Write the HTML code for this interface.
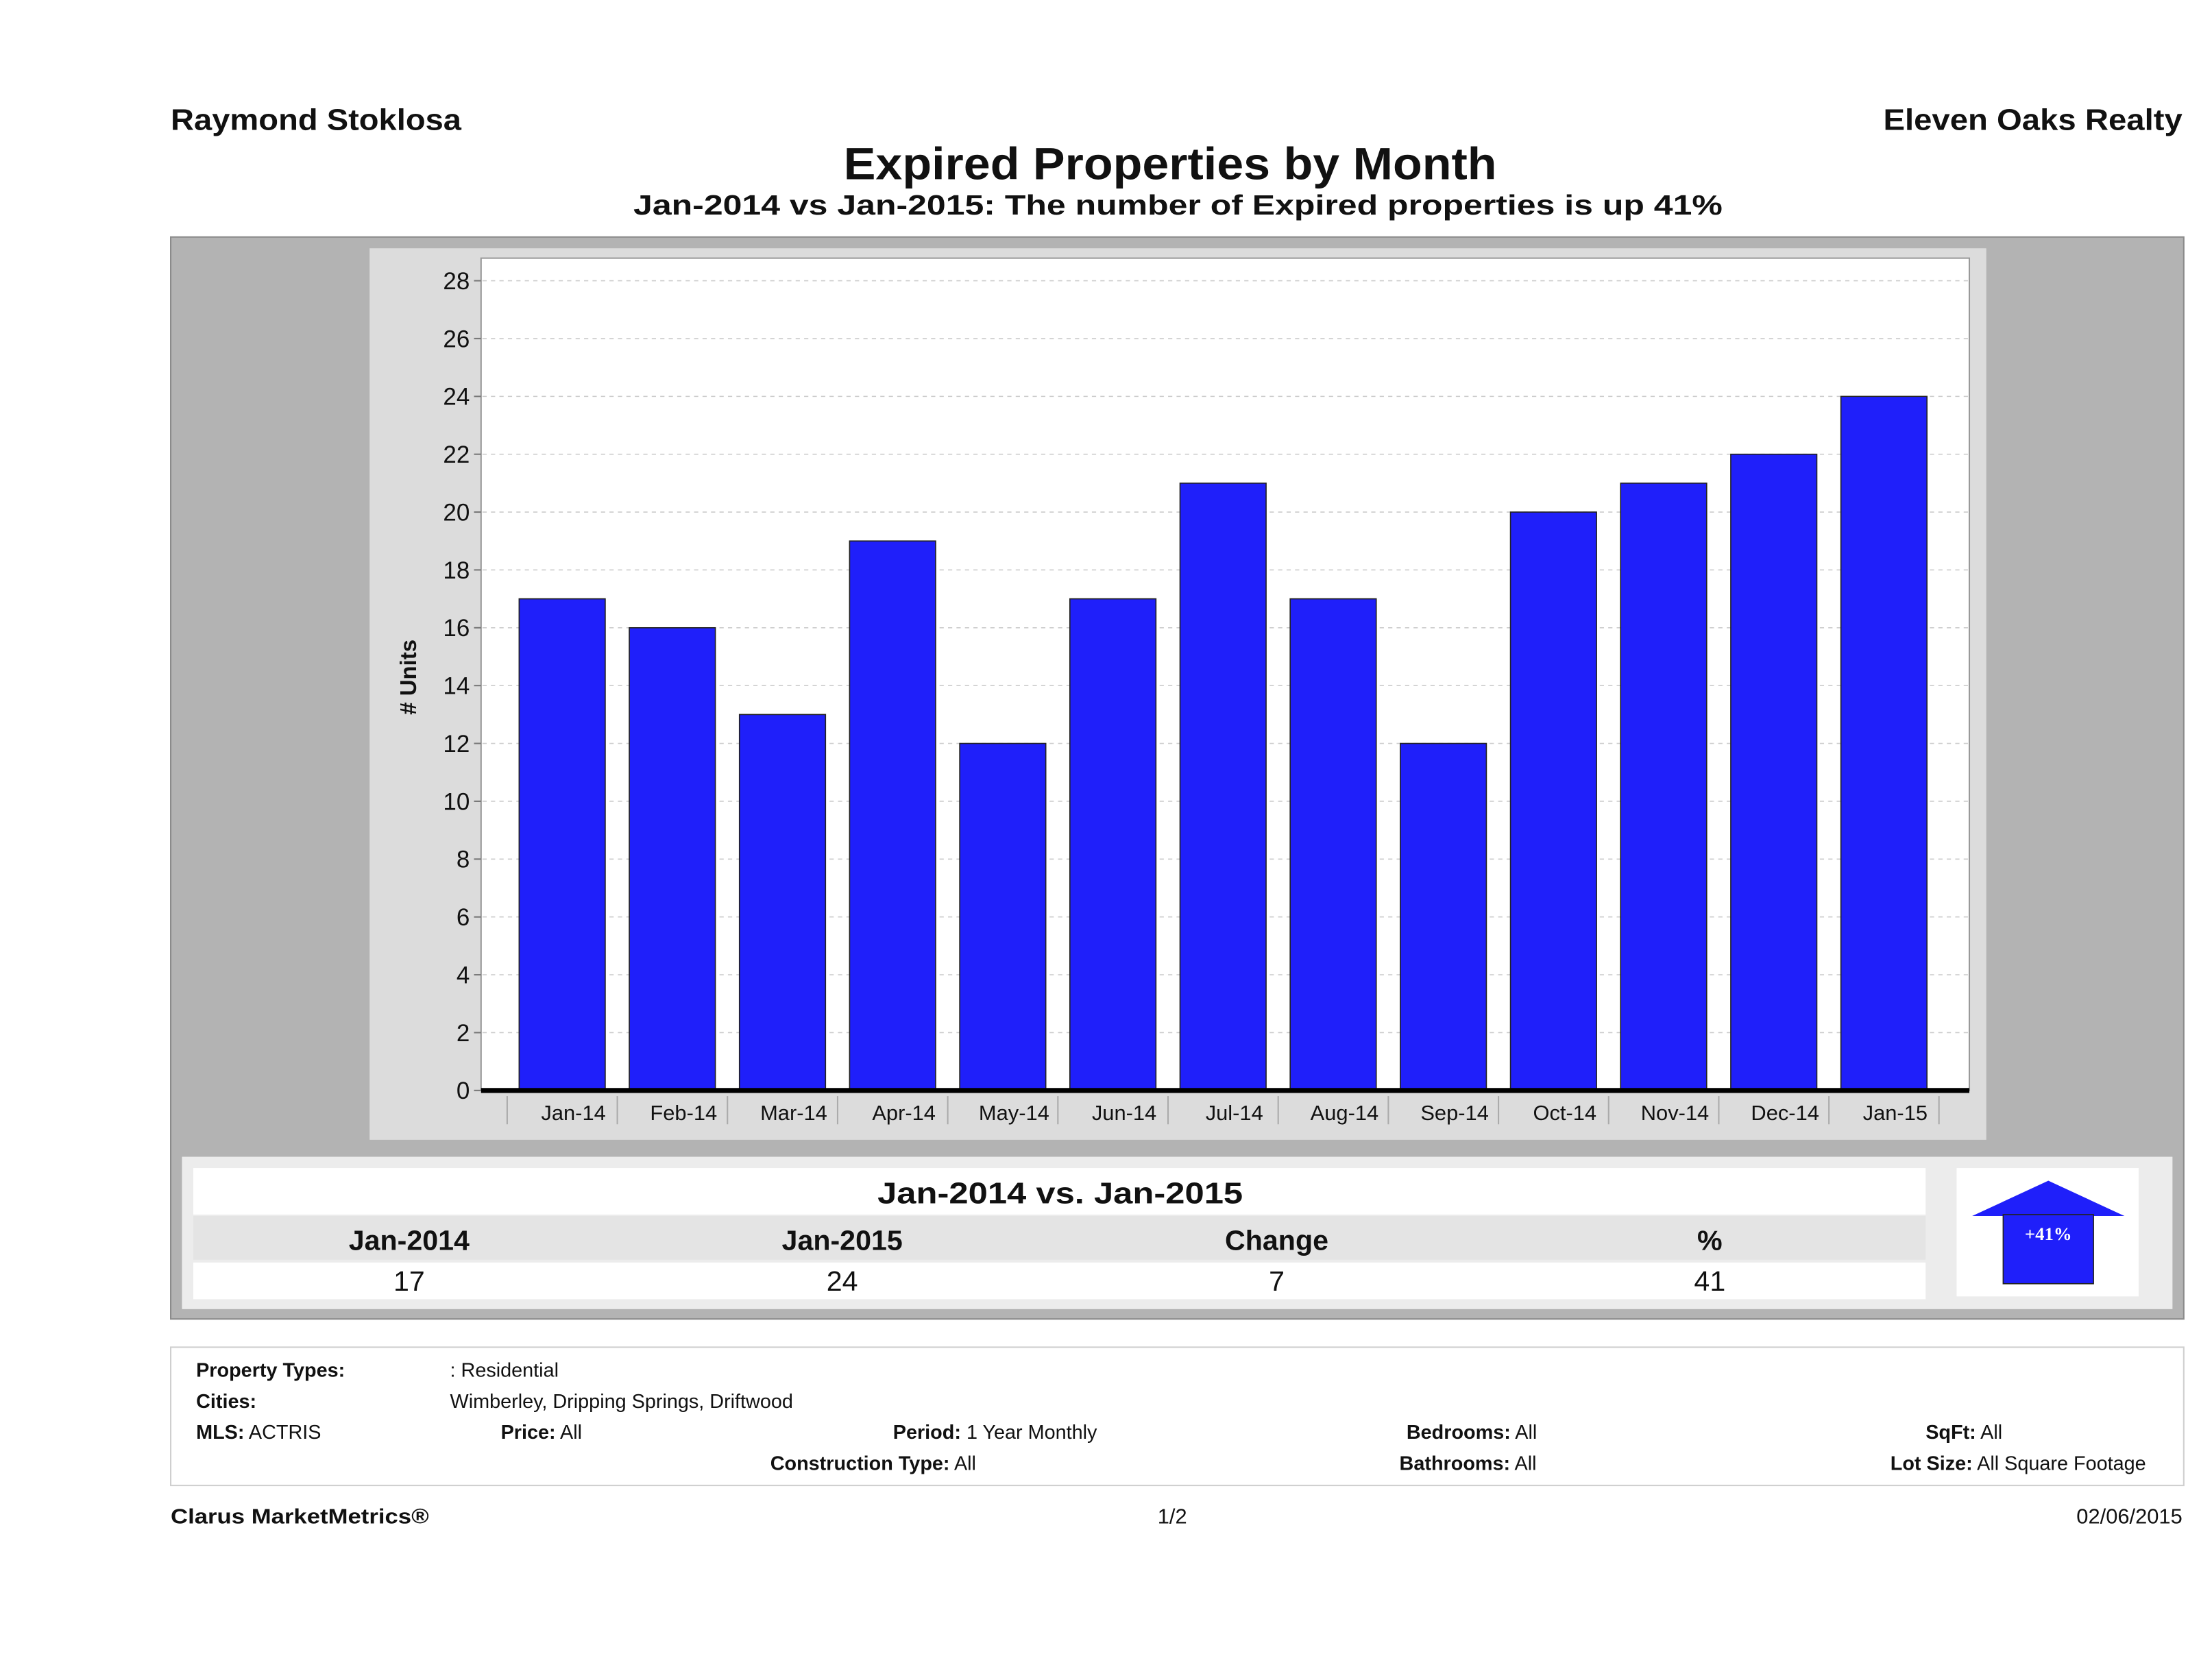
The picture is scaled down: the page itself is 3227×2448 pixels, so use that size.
<!DOCTYPE html>
<html><head><meta charset="utf-8"><style>
html,body{margin:0;padding:0;background:#fff;}
svg{display:block;font-family:"Liberation Sans",sans-serif;}
</style></head><body>
<svg id="chart" width="3227" height="2448" viewBox="0 0 1568 1189.5" xmlns="http://www.w3.org/2000/svg">
<rect x="0" y="0" width="1568" height="1190" fill="#fff"/>
<text x="121" y="92" font-size="21" font-weight="bold" fill="#111" textLength="206" lengthAdjust="spacingAndGlyphs">Raymond Stoklosa</text>
<text x="1335" y="92" font-size="21" font-weight="bold" fill="#111" textLength="212" lengthAdjust="spacingAndGlyphs">Eleven Oaks Realty</text>
<text x="598" y="127" font-size="32" font-weight="bold" fill="#111" textLength="463" lengthAdjust="spacingAndGlyphs">Expired Properties by Month</text>
<text x="449" y="152" font-size="20" font-weight="bold" fill="#111" textLength="772" lengthAdjust="spacingAndGlyphs">Jan-2014 vs Jan-2015: The number of Expired  properties is up 41%</text>
<rect x="121" y="168" width="1427" height="767" fill="#b3b3b3" stroke="#8a8a8a"/>
<rect x="262" y="176" width="1146" height="632" fill="#dcdcdc"/>
<rect x="341" y="183" width="1055" height="590" fill="#fff" stroke="#999"/>
<g id="grid"></g>
<g id="bars"></g>
<g id="xaxis"></g>
<g id="yaxis"></g>
<text transform="translate(295,480) rotate(-90)" font-size="16" font-weight="bold" text-anchor="middle" fill="#111"># Units</text>

<rect x="129" y="820" width="1411" height="108" fill="#ececec"/>
<rect x="137" y="828" width="1228" height="33" fill="#fff"/>
<rect x="137" y="862" width="1228" height="31" fill="#e4e4e4"/>
<rect x="137" y="895" width="1228" height="26" fill="#fff"/>
<text x="622" y="853" font-size="21" font-weight="bold" fill="#111" textLength="259" lengthAdjust="spacingAndGlyphs">Jan-2014 vs. Jan-2015</text>
<g font-size="20" font-weight="bold" text-anchor="middle" fill="#111">
<text x="290" y="886">Jan-2014</text>
<text x="597" y="886">Jan-2015</text>
<text x="905" y="886">Change</text>
<text x="1212" y="886">%</text>
</g>
<g font-size="20" text-anchor="middle" fill="#111">
<text x="290" y="915">17</text>
<text x="597" y="915">24</text>
<text x="905" y="915">7</text>
<text x="1212" y="915">41</text>
</g>
<rect x="1387" y="828" width="129" height="91" fill="#fff"/>
<g>
<polygon points="1398,862 1452,837 1506,862" fill="#1f1ffa"/>
<rect x="1420" y="861" width="64" height="49" fill="#1f1ffa" stroke="#222" stroke-width="0.8"/>
<text x="1452" y="879" font-family="Liberation Serif,serif" font-size="13" font-weight="bold" fill="#fff" text-anchor="middle">+41%</text>
</g>

<rect x="121" y="955" width="1427" height="98" fill="#fff" stroke="#cfcfcf"/>
<g font-size="14" fill="#111">
<text x="139" y="976" font-weight="bold">Property Types:</text>
<text x="319" y="976">: Residential</text>
<text x="139" y="998" font-weight="bold">Cities:</text>
<text x="319" y="998">Wimberley, Dripping Springs, Driftwood</text>
<text x="139" y="1020"><tspan font-weight="bold">MLS:</tspan>   ACTRIS</text>
<text x="355" y="1020"><tspan font-weight="bold">Price:</tspan> All</text>
<text x="633" y="1020"><tspan font-weight="bold">Period:</tspan> 1 Year Monthly</text>
<text x="546" y="1042"><tspan font-weight="bold">Construction Type:</tspan> All</text>
<text x="997" y="1020"><tspan font-weight="bold">Bedrooms:</tspan> All</text>
<text x="992" y="1042"><tspan font-weight="bold">Bathrooms:</tspan> All</text>
<text x="1365" y="1020"><tspan font-weight="bold">SqFt:</tspan>  All</text>
<text x="1340" y="1042"><tspan font-weight="bold">Lot Size:</tspan>  All Square Footage</text>
</g>
<text x="121" y="1080" font-size="15" font-weight="bold" fill="#111" textLength="183" lengthAdjust="spacingAndGlyphs">Clarus MarketMetrics®</text>
<text x="831" y="1080" font-size="15" text-anchor="middle" fill="#111">1/2</text>
<text x="1547" y="1080" font-size="15" text-anchor="end" fill="#111">02/06/2015</text>
</svg>
<script>
const categories = ["Jan-14","Feb-14","Mar-14","Apr-14","May-14","Jun-14","Jul-14","Aug-14","Sep-14","Oct-14","Nov-14","Dec-14","Jan-15"];
const expiredCounts = [17,16,13,19,12,17,21,17,12,20,21,22,24];
const yTicks = [0,2,4,6,8,10,12,14,16,18,20,22,24,26,28];

const NS = "http://www.w3.org/2000/svg";
const y0 = 773, yPerUnit = (773 - 199) / 28;
function yScale(v){ return y0 - v * yPerUnit; }
function xCenter(i){ return 398.5 + i * 78.08; }
const barW = 61;
function mk(tag, attrs, parent){ const e = document.createElementNS(NS, tag); for (const k in attrs) e.setAttribute(k, attrs[k]); parent.appendChild(e); return e; }

const grid = document.getElementById('grid');
const yaxis = document.getElementById('yaxis');
yTicks.forEach(t => {
  const y = yScale(t);
  if (t > 0) {
    const g = mk('line', {x1:342, x2:1395, y1:y, y2:y, stroke:'#ccc', 'stroke-width':0.8, 'stroke-dasharray':'3,3'}, grid);
    
    
  }
  mk('line', {x1:336, x2:341, y1:y, y2:y, stroke:'#777'}, yaxis);
  const lab = mk('text', {x:333, y:y+6, 'font-size':17, 'text-anchor':'end', fill:'#111'}, yaxis);
  lab.textContent = t;
  
  
});

const bars = document.getElementById('bars');
expiredCounts.forEach((v, i) => {
  const top = yScale(v);
  const r = mk('rect', {x:xCenter(i)-barW/2, y:top, width:barW, height:y0-top, fill:'#1f1ffa', stroke:'#222', 'stroke-width':0.8}, bars);
  
  
});

const xaxis = document.getElementById('xaxis');
mk('line', {x1:341, x2:1396, y1:773, y2:773, stroke:'#000', 'stroke-width':3.5}, xaxis);
categories.forEach((c, i) => {
  const xs = xCenter(i) - 39;
  mk('line', {x1:xs, x2:xs, y1:777, y2:797, stroke:'#aaa'}, xaxis);
  const lab = mk('text', {x:xCenter(i)+8, y:794, 'font-size':15, 'text-anchor':'middle', fill:'#111'}, xaxis);
  lab.textContent = c;
  
  
});
mk('line', {x1:xCenter(12)+39, x2:xCenter(12)+39, y1:777, y2:797, stroke:'#aaa'}, xaxis);
</script>
</body></html>
